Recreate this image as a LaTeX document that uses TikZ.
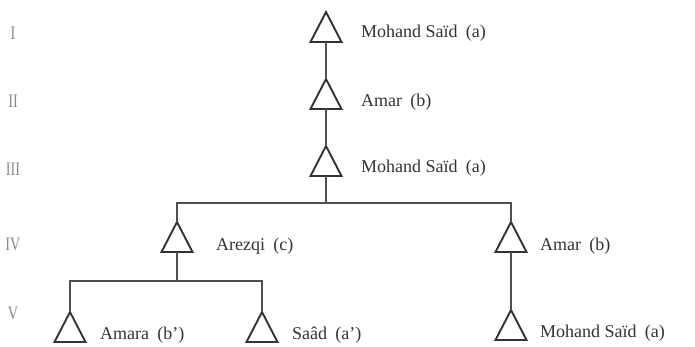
\documentclass[tikz,border=0pt]{standalone}
\usepackage{fontspec}
\usepackage{graphicx}
\setmainfont{Liberation Serif}
\definecolor{ink}{HTML}{333333}
\definecolor{linegray}{HTML}{505050}
\definecolor{numgray}{HTML}{8A8A8A}
\begin{document}
\begin{tikzpicture}[x=1pt,y=-1pt,
  person/.style={minimum width=31pt,minimum height=30pt,inner sep=0pt,outer sep=0pt},
  triline/.style={draw=ink,line width=1.9pt,line join=miter},
  link/.style={draw=linegray,line width=1.1pt},
  kinlabel/.style={anchor=base west,inner sep=0pt,text=ink,font=\fontsize{18}{20}\selectfont},
  genlabel/.style={anchor=base,inner sep=0pt,text=numgray,font=\fontsize{19}{20}\selectfont}]
\useasboundingbox (0,0) rectangle (695,347);

% generation numerals
\node[genlabel] (g1) at (13,40)  {\scalebox{0.75}[1]{I}};
\node[genlabel] (g2) at (13,108) {\scalebox{0.75}[1]{II}};
\node[genlabel] (g3) at (13,176) {\scalebox{0.75}[1]{III}};
\node[genlabel] (g4) at (13,251) {\scalebox{0.75}[1]{IV}};
\node[genlabel] (g5) at (13,319) {\scalebox{0.75}[1]{V}};

% people (triangle frames)
\node[person] (t1) at (326,27)  {};
\node[person] (t2) at (326,94)  {};
\node[person] (t3) at (326,161) {};
\node[person] (t4) at (177,237) {};
\node[person] (t5) at (511,237) {};
\node[person] (t6) at (70,327)  {};
\node[person] (t7) at (262,327) {};
\node[person] (t8) at (511,325) {};
\foreach \p in {t1,t2,t3,t4,t5,t6,t7,t8}
  \draw[triline] (\p.north) -- (\p.south east) -- (\p.south west) -- cycle;

% branch junctions
\coordinate (j1) at (326,203);
\coordinate (j2) at (177,281);

% descent lines
\draw[link] (t1.south) -- (t2.north);
\draw[link] (t2.south) -- (t3.north);
\draw[link] (t3.south) -- (j1);
\draw[link] (t4.north) |- (j1) -| (t5.north);
\draw[link] (t4.south) -- (j2);
\draw[link] (t6.north) |- (j2) -| (t7.north);
\draw[link] (t5.south) -- (t8.north);

% names
\node[kinlabel] (n1) at (361,38)  {Mohand Saïd\hspace{0.45em}(a)};
\node[kinlabel] (n2) at (361,107) {Amar\hspace{0.45em}(b)};
\node[kinlabel] (n3) at (361,173) {Mohand Saïd\hspace{0.45em}(a)};
\node[kinlabel] (n4) at (216,251) {Arezqi\hspace{0.45em}(c)};
\node[kinlabel] (n5) at (540,250) {Amar\hspace{0.45em}(b)};
\node[kinlabel] (n6) at (100,339) {Amara\hspace{0.45em}(b’)};
\node[kinlabel] (n7) at (292,339) {Saâd\hspace{0.45em}(a’)};
\node[kinlabel] (n8) at (540,337) {Mohand Saïd\hspace{0.45em}(a)};
\end{tikzpicture}
\end{document}
